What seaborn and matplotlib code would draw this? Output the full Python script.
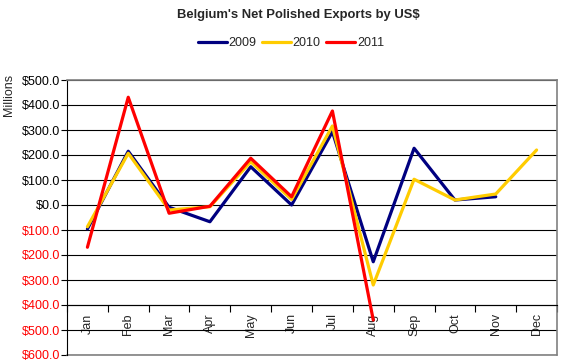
import numpy as np
import pandas as pd
import seaborn as sns
import matplotlib.pyplot as plt
from matplotlib.ticker import FuncFormatter, MultipleLocator

months = ["Jan", "Feb", "Mar", "Apr", "May", "Jun", "Jul", "Aug", "Sep", "Oct", "Nov", "Dec"]
exports_2009 = [-96, 215, -9, -67, 153, 0, 293, -227, 227, 20, 33, np.nan]
exports_2010 = [-87, 207, -20, -7, 173, 22, 316, -320, 103, 20, 44, 220]
exports_2011 = [-169, 431, -33, -5, 187, 33, 376, -460, np.nan, np.nan, np.nan, np.nan]
years = ["2009", "2010", "2011"]
colors = ["#000080", "#FFCC00", "#FF0000"]

df = pd.DataFrame({"month": range(12), "2009": exports_2009,
                   "2010": exports_2010, "2011": exports_2011})
df = df.melt(id_vars="month", var_name="year", value_name="value").dropna()

sns.set_style("white")
plt.rcParams["font.family"] = ["Liberation Sans", "DejaVu Sans"]

fig = plt.figure(figsize=(5.66, 3.63), dpi=100)
ax = fig.add_axes([67 / 566, 1 - 355 / 363, 490 / 566, 275 / 363])

sns.lineplot(data=df, x="month", y="value", hue="year", hue_order=years,
             palette=dict(zip(years, colors)), linewidth=2.3, ax=ax,
             legend=False, zorder=3)

ax.set_xlim(-0.5, 11.5)
ax.set_ylim(-600, 500)
ax.yaxis.set_major_locator(MultipleLocator(100))
ax.yaxis.set_major_formatter(FuncFormatter(lambda v, p: f"${abs(v):.1f}"))
ax.grid(axis="y", color="black", linewidth=0.8)
ax.grid(axis="x", visible=False)
ax.set_axisbelow(True)

# category axis crosses at -400
ax.spines["bottom"].set_position(("data", -400))
ax.spines["bottom"].set_color("black")
ax.spines["bottom"].set_linewidth(0.8)
ax.spines["left"].set_color("black")
ax.spines["left"].set_linewidth(0.8)
for s in ["top", "right"]:
    ax.spines[s].set_color("#808080")
    ax.spines[s].set_linewidth(1.2)
ax.axhline(-600, color="#808080", linewidth=1.2, clip_on=False)

ax.set_xticks(range(12))
ax.set_xticklabels(months, rotation=90, fontsize=9)
ax.set_xticks(np.arange(-0.5, 12, 1), minor=True)
ax.tick_params(axis="x", which="major", length=0, pad=6)
ax.tick_params(axis="x", which="minor", length=5, width=0.8, color="black",
               direction="out", bottom=True)
ax.tick_params(axis="y", length=4, width=0.8, color="black", direction="out",
               left=True, labelsize=9, pad=1)
for lab in ax.get_xticklabels():
    lab.set_verticalalignment("top")

ax.set_xlabel("")
ax.set_ylabel("")
for t, v in zip(ax.get_yticklabels(), ax.get_yticks()):
    t.set_color("red" if v < 0 else "black")

fig.text(0.006, 1 - 74 / 363, "Millions", rotation=90, fontsize=9, va="top", ha="left")
fig.text(298 / 566, 1 - 15 / 363, "Belgium's Net Polished Exports by US$",
         fontsize=9.4, fontweight="bold", ha="center", va="center")

handles = [plt.Line2D([], [], color=c, linewidth=2.3) for c in colors]
fig.legend(handles, years, loc="center", bbox_to_anchor=(291 / 566, 1 - 43 / 363),
           ncol=3, frameon=False, fontsize=9, handlelength=2.3,
           handletextpad=0.15, columnspacing=0.45)

fig.savefig("out.png", dpi=100)
